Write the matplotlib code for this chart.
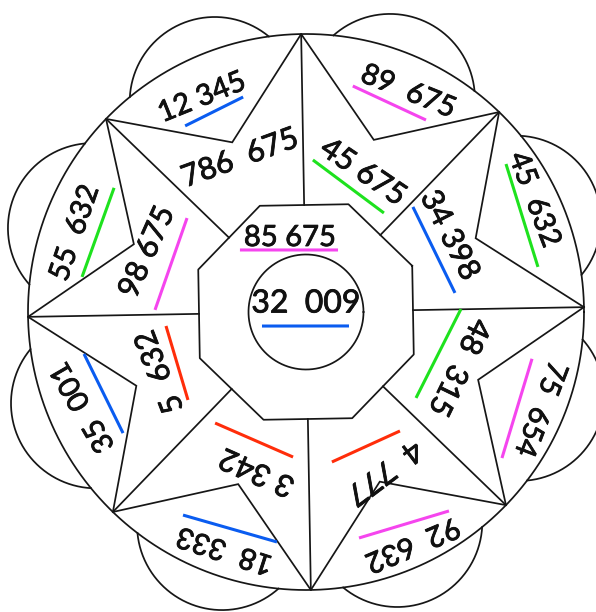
import numpy as np
import matplotlib
matplotlib.use("Agg")
import matplotlib.pyplot as plt
import matplotlib.patheffects as pe

# ---------------- data ----------------
outer_labels = ["12 345", "89  675", "45  632", "75  654", "92  632", "18  333", "35  001", "55  632"]
outer_colors = ["blue", "magenta", "green", "magenta", "magenta", "blue", "blue", "green"]
inner_labels = ["786  675", "45 675", "34 398", "48  315", "4  777", "3 342", "5  632", "98 675"]
inner_colors = [None, "green", "blue", "green", "red", "red", "red", "magenta"]
octagon_label = "85 675"
octagon_color = "magenta"
circle_label = "32  009"
circle_color = "blue"

# ---------------- layout / style ----------------
W, H = 596, 612
CX, CY = 306, 312          # figure centre (pixel-like data units)
ROT = 1.0                  # slight rotation of the drawing (deg)
R_OUT = 278                # big circle / star tips
R_INNER_STAR = 185         # concave star vertices
APOTHEM = 107              # octagon
R_CIRCLE = 57.5            # central circle
BUMP_D, BUMP_R = 229, 85   # scallops

palette = {"blue": "#0a5cf0", "green": "#1ee21e", "magenta": "#f545ee", "red": "#ff2d0a"}
INK = "#161616"
LW = 1.25

# text placement: (radius, angle deg) from centre, rotation
outer_pos = [(238, 115.9), (242.5, 65.1), (254, 26.2), (253, -22.5),
             (255, -65.4), (251, -108.8), (242, -156.9), (244, 161.1)]
outer_rot = [22, -22, -69, -111, -157, 162, 120, 71]
inner_pos = [(167.5, 113.2), (151, 67.8), (163, 28.1), (162.6, -19.8),
             (178, -64), (167, -107), (158, -157.7), (170, 159.3)]
inner_rot = [20, -34, -63, -116, -143, 156, 111, 66]
oct_pos, circ_pos = (75.7, 102.2), (8.5, 90)

# underline segments: ((r1, a1), (r2, a2))
outer_ul = [((221.9, 123.0), (224.0, 106.3)), ((230.8, 78.3), (226.4, 58.0)),
            ((248.8, 36.5), (236.3, 11.0)), ((230.8, -11.7), (244.4, -36.7)),
            ((245.0, -54.3), (232.1, -76.8)), ((237.4, -121.2), (231.8, -97.2)),
            ((225.9, -169.3), (219.4, -146.5)), ((226.7, 171.1), (228.6, 147.1))]
inner_ul = [None, ((152.2, 87.4), (126.0, 51.8)), ((149.9, 44.5), (150.2, 7.3)),
            ((155.0, 1.1), (139.6, -38.0)), ((151.6, -51.7), (152.2, -80.2)),
            ((143.5, -129.3), (145.6, -95.1)), ((140.7, -174.3), (147.2, -143.3)),
            ((151.0, 179.2), (151.6, 141.7))]
oct_ul = ((90.6, 136.8), (69.8, 62.7))
circ_ul = ((46.2, -162.3), (45.2, -18.0))


def P(r, a):
    t = np.deg2rad(a)
    return CX + r * np.cos(t), CY - r * np.sin(t)


fig = plt.figure(figsize=(W / 100, H / 100), dpi=100)
ax = fig.add_axes([0, 0, 1, 1])
ax.set_xlim(0, W)
ax.set_ylim(H, 0)
ax.axis("off")

# big circle
t = np.linspace(0, 360, 721)
x, y = P(R_OUT, t)
ax.plot(x, y, color=INK, lw=LW)

# scallops
cosmax = (R_OUT**2 - BUMP_D**2 - BUMP_R**2) / (2 * BUMP_D * BUMP_R)
psi = np.degrees(np.arccos(cosmax))
for k in range(8):
    a = 22.5 + 45 * k + ROT
    bx, by = P(BUMP_D, a)
    s = np.deg2rad(a + np.linspace(-psi, psi, 200))
    ax.plot(bx + BUMP_R * np.cos(s), by - BUMP_R * np.sin(s), color=INK, lw=LW)

# star outline
pts = []
for k in range(8):
    pts.append(P(R_OUT, 45 * k + ROT))
    pts.append(P(R_INNER_STAR, 22.5 + 45 * k + ROT))
pts.append(pts[0])
sx, sy = zip(*pts)
ax.plot(sx, sy, color=INK, lw=LW, solid_joinstyle="miter")

# spokes from tips to octagon edge midpoints
for k in range(8):
    a = 45 * k + ROT
    x1, y1 = P(R_OUT, a)
    x2, y2 = P(APOTHEM, a)
    ax.plot([x1, x2], [y1, y2], color=INK, lw=LW)

# octagon
rc = APOTHEM / np.cos(np.deg2rad(22.5))
ov = [P(rc, 22.5 + 45 * k + ROT) for k in range(9)]
ox, oy = zip(*ov)
ax.plot(ox, oy, color=INK, lw=LW)

# central circle
x, y = P(R_CIRCLE, t)
ax.plot(x, y, color=INK, lw=LW)

FONT = ["Lato", "DejaVu Sans"]
TEXT_FX = [pe.withStroke(linewidth=0.6, foreground="#111111")]


def put_text(label, pos, rot, size):
    x, y = P(*pos)
    ax.text(x, y, label, rotation=rot, rotation_mode="anchor", ha="center",
            va="center", fontsize=size, family=FONT, color="#111111",
            path_effects=TEXT_FX)


def put_line(seg, color):
    (r1, a1), (r2, a2) = seg
    x1, y1 = P(r1, a1)
    x2, y2 = P(r2, a2)
    ax.plot([x1, x2], [y1, y2], color=palette[color], lw=2.2, solid_capstyle="butt")


for lab, col, pos, rot, ul in zip(outer_labels, outer_colors, outer_pos, outer_rot, outer_ul):
    put_text(lab, pos, rot, 21)
    put_line(ul, col)

for lab, col, pos, rot, ul in zip(inner_labels, inner_colors, inner_pos, inner_rot, inner_ul):
    put_text(lab, pos, rot, 22)
    if col is not None:
        put_line(ul, col)

put_text(octagon_label, oct_pos, 0, 21)
put_line(oct_ul, octagon_color)
put_text(circle_label, circ_pos, 0, 23)
put_line(circ_ul, circle_color)

fig.savefig("out.png", dpi=100, facecolor="white")
